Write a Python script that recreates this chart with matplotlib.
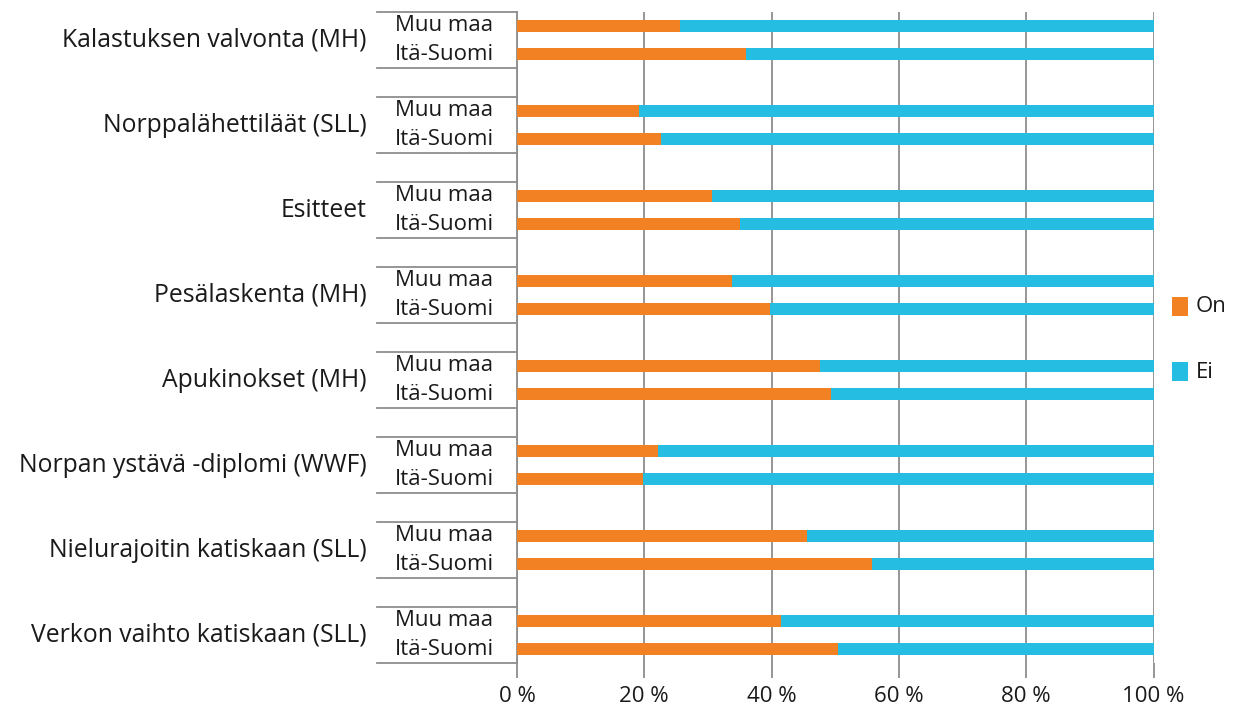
import matplotlib
matplotlib.use("Agg")
import matplotlib.pyplot as plt
import matplotlib.transforms as mtransforms
from matplotlib.patches import Rectangle

plt.rcParams['font.family'] = ['Open Sans', 'DejaVu Sans']

groups = ["Kalastuksen valvonta (MH)", "Norppalähettiläät (SLL)", "Esitteet",
          "Pesälaskenta (MH)", "Apukinokset (MH)", "Norpan ystävä -diplomi (WWF)",
          "Nielurajoitin katiskaan (SLL)", "Verkon vaihto katiskaan (SLL)"]
subcats = ["Muu maa", "Itä-Suomi"]
on_muu = [25.6, 19.1, 30.6, 33.7, 47.6, 22.1, 45.5, 41.4]
on_ita = [35.9, 22.7, 35.1, 39.8, 49.3, 19.8, 55.7, 50.5]
xticks = [0, 20, 40, 60, 80, 100]
xticklabels = ["0 %", "20 %", "40 %", "60 %", "80 %", "100 %"]
series_names = ["On", "Ei"]

c_on = "#F28123"
c_ei = "#26BDE2"
grid_c = "#8E8E8E"
txt_c = "#1a1a1a"

W, H = 1236, 705
fig = plt.figure(figsize=(W / 100, H / 100), dpi=100)
left, right = 517 / W, 1153.5 / W
top, bottom = 1 - 11.7 / H, 1 - 663.4 / H
ax = fig.add_axes([left, bottom, right - left, top - bottom])

ypos, vals, labels = [], [], []
for g in range(len(groups)):
    ypos += [3 * g, 3 * g + 1]
    vals += [on_muu[g], on_ita[g]]
    labels += subcats

bh = 0.41
ei_vals = [100 - v for v in vals]
ax.barh(ypos, vals, height=bh, color=c_on, zorder=3, label=series_names[0])
ax.barh(ypos, ei_vals, left=vals, height=bh, color=c_ei, zorder=3, label=series_names[1])

ax.set_xlim(0, 100)
ax.set_ylim(3 * len(groups) - 1 - 0.5, -0.5)
ax.set_xticks(xticks)
ax.set_xticklabels(xticklabels, fontsize=16, color=txt_c)
ax.tick_params(axis='x', length=11, width=1.3, color=grid_c, pad=5)
ax.set_yticks([])
for s in ["top", "right", "bottom"]:
    ax.spines[s].set_visible(False)
ax.spines["left"].set_color(grid_c)
ax.spines["left"].set_linewidth(1.3)
ax.grid(axis='x', color=grid_c, linewidth=1.3, zorder=0)
ax.set_axisbelow(True)

trans = mtransforms.blended_transform_factory(ax.transAxes, ax.transData)
x_line0 = (377 - 517) / (1153.5 - 517)
x_inner = (444 - 517) / (1153.5 - 517)
x_group = (367 - 517) / (1153.5 - 517)
for g in range(len(groups)):
    for yl in (3 * g - 0.5, 3 * g + 1.5):
        ax.plot([x_line0, 0], [yl, yl], transform=trans, color=grid_c,
                linewidth=1.3, clip_on=False)
    ax.text(x_group, 3 * g + 0.5, groups[g], transform=trans, ha='right',
            va='center', fontsize=17.8, color=txt_c)
for y, lab in zip(ypos, labels):
    ax.text(x_inner, y, lab, transform=trans, ha='center', va='center',
            fontsize=16, color=txt_c)

# legend (manual placement)
leg_items = [(series_names[0], c_on, 306), (series_names[1], c_ei, 372)]
for name, col, yc in leg_items:
    fig.patches.append(Rectangle((1172 / W, 1 - (yc + 9.5) / H), 16 / W, 19 / H,
                                 transform=fig.transFigure, facecolor=col,
                                 edgecolor='none'))
    fig.text(1196 / W, 1 - yc / H, name, ha='left', va='center', fontsize=16,
             color=txt_c)

fig.savefig("out.png", dpi=100)
